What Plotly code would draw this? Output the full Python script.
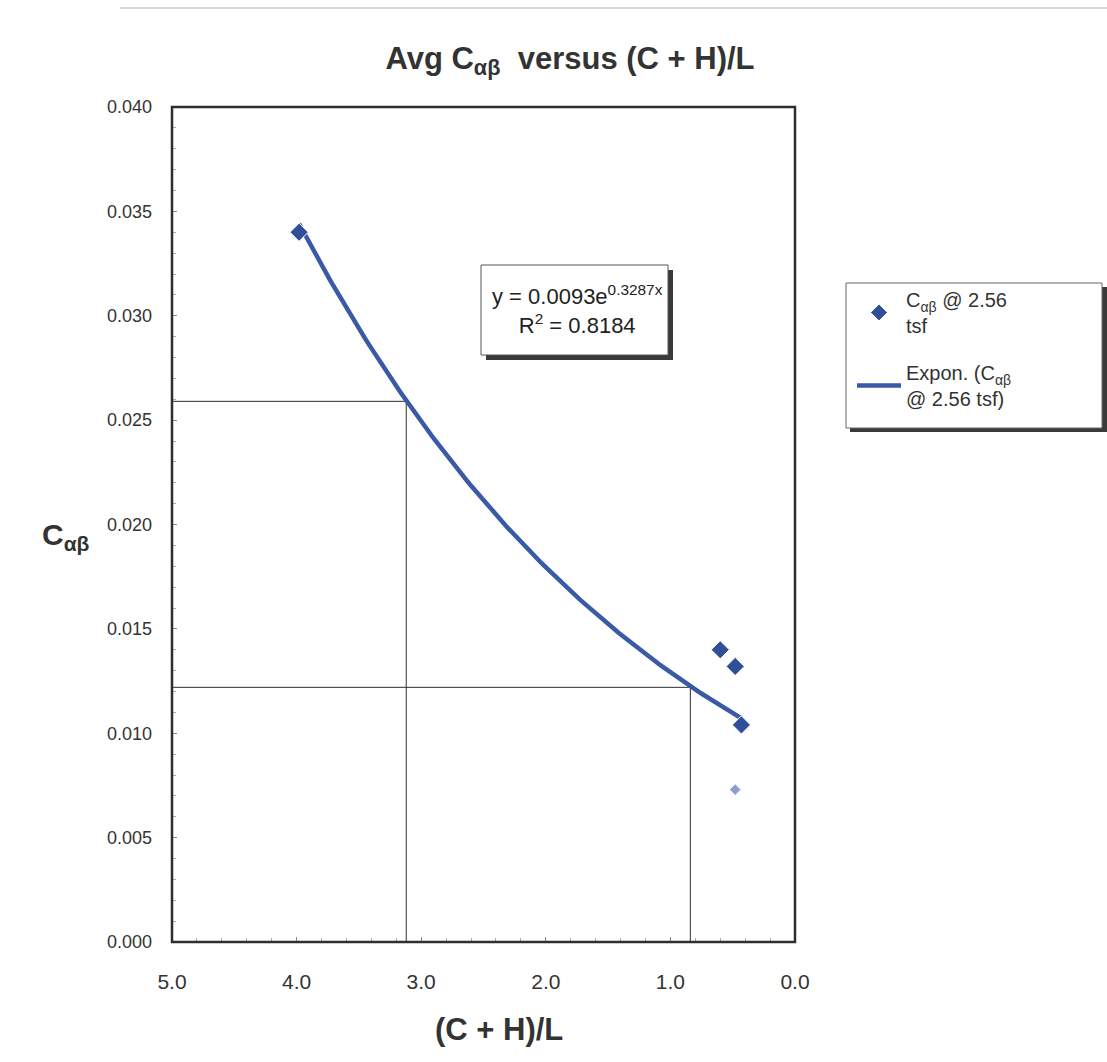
import numpy as np
import plotly.graph_objects as go

# Measured points: Avg C_ab at 2.56 tsf against (C + H)/L
ch_over_l = [3.98, 0.60, 0.48, 0.43, 0.48]
c_ab = [0.0340, 0.0140, 0.0132, 0.0104, 0.0073]

# Exponential trendline y = a * exp(b * x)
fit_a = 0.0093
fit_b = 0.3287
fit_r2 = 0.8184

# Read-off guide lines (x on the trendline, matching y)
guide_x = [3.12, 0.84]
guide_y = [0.0259, 0.0122]

x_ticks = [0.0, 1.0, 2.0, 3.0, 4.0, 5.0]
y_ticks = [0.000, 0.005, 0.010, 0.015, 0.020, 0.025, 0.030, 0.035, 0.040]

FONT = "Arial, 'Liberation Sans', sans-serif"
BLUE = "#3a5aa6"
MARK = "#2f4f98"
DARK = "#2e2e2e"

fit_x = np.linspace(max(ch_over_l), min(ch_over_l), 200)
fit_y = fit_a * np.exp(fit_b * fit_x)

fig = go.Figure()

# Guide lines drawn first so the data sit above them
for gx, gy in zip(guide_x, guide_y):
    fig.add_shape(type="line", xref="x", yref="y", x0=5.0, x1=gx, y0=gy, y1=gy,
                  line=dict(color=DARK, width=1), layer="below")
    fig.add_shape(type="line", xref="x", yref="y", x0=gx, x1=gx, y0=0.0, y1=gy,
                  line=dict(color=DARK, width=1), layer="below")

marker_colors = [MARK] * (len(c_ab) - 1) + ["#8d9fd0"]
marker_sizes = [14] * (len(c_ab) - 1) + [9]

fig.add_trace(go.Scatter(
    x=fit_x, y=fit_y, mode="lines",
    line=dict(color=BLUE, width=4.5),
    name="Expon. (C<sub>αβ</sub><br>@ 2.56 tsf)",
    legendrank=2, legendgroup="fit",
))
fig.add_trace(go.Scatter(
    x=ch_over_l, y=c_ab, mode="markers",
    marker=dict(symbol="diamond", size=marker_sizes, color=marker_colors, opacity=1),
    name="C<sub>αβ</sub> @ 2.56<br>tsf",
    legendrank=1, legendgroup="pts",
))

# Plot-area frame
fig.add_shape(type="rect", xref="paper", yref="paper", x0=0, x1=1, y0=0, y1=1,
              line=dict(color=DARK, width=2.5), layer="above")

# Equation box with drop shadow
fig.add_shape(type="rect", xref="paper", yref="paper",
              x0=(486 - 172) / 623, x1=(673 - 172) / 623,
              y0=(942 - 360) / 835, y1=(942 - 270) / 835,
              line=dict(width=0), fillcolor="#3a3a3a", layer="above")
fig.add_shape(type="rect", xref="paper", yref="paper",
              x0=(481 - 172) / 623, x1=(668 - 172) / 623,
              y0=(942 - 355) / 835, y1=(942 - 265) / 835,
              line=dict(color="#555555", width=1), fillcolor="white", layer="above")
fig.add_annotation(
    xref="paper", yref="paper", x=(577 - 172) / 623, y=(942 - 309) / 835,
    xanchor="center", yanchor="middle",
    text=f"y = {fit_a}e<sup>{fit_b}x</sup><br>R<sup>2</sup> = {fit_r2}",
    showarrow=False, align="center", font=dict(family=FONT, size=22, color="#222222"),
)

# Legend box with drop shadow
fig.add_shape(type="rect", xref="paper", yref="paper",
              x0=(850 - 172) / 623, x1=(1107 - 172) / 623,
              y0=(942 - 432) / 835, y1=(942 - 287) / 835,
              line=dict(width=0), fillcolor="#3a3a3a", layer="above")
fig.add_shape(type="rect", xref="paper", yref="paper",
              x0=(846 - 172) / 623, x1=(1102 - 172) / 623,
              y0=(942 - 428) / 835, y1=(942 - 283) / 835,
              line=dict(color="#666666", width=1), fillcolor="white", layer="above")

# Axis titles
fig.add_annotation(
    xref="paper", yref="paper", x=(499 - 172) / 623, y=(942 - 1029) / 835,
    xanchor="center", yanchor="middle",
    text="<b>(C + H)/L</b>", showarrow=False,
    font=dict(family=FONT, size=31, color="#333333"),
)
fig.add_annotation(
    xref="paper", yref="paper", x=(66 - 172) / 623, y=(942 - 536) / 835,
    xanchor="center", yanchor="middle",
    text="<b>C<sub>αβ</sub></b>", showarrow=False,
    font=dict(family=FONT, size=30, color="#333333"),
)

# Faint scan edge along the top of the sheet
fig.add_shape(type="line", xref="paper", yref="paper",
              x0=(120 - 172) / 623, x1=(1107 - 172) / 623,
              y0=(942 - 8) / 835, y1=(942 - 8) / 835,
              line=dict(color="#cccccc", width=1.5))

fig.update_layout(
    width=1107, height=1062,
    margin=dict(l=172, r=312, t=107, b=120),
    paper_bgcolor="white", plot_bgcolor="white",
    title=dict(
        text="<b>Avg C<sub>αβ</sub>  versus (C + H)/L</b>",
        x=570 / 1107, xanchor="center", y=1 - 58 / 1062, yanchor="middle",
        yref="container", xref="container",
        font=dict(family=FONT, size=31, color="#333333"),
    ),
    legend=dict(
        x=(852 - 172) / 623, y=(942 - 280) / 835, xanchor="left", yanchor="top",
        bgcolor="rgba(0,0,0,0)", borderwidth=0,
        font=dict(family=FONT, size=20, color="#333333"),
        tracegroupgap=18, itemwidth=44,
    ),
    showlegend=True,
    font=dict(family=FONT, color="#222222"),
)

fig.update_xaxes(
    range=[5.0, 0.0], tickvals=x_ticks, tickformat=".1f",
    showgrid=False, zeroline=False, showline=False,
    ticks="inside", ticklen=5, tickcolor="#888888",
    minor=dict(ticks="inside", dtick=0.2, ticklen=4, tickcolor="#aaaaaa"),
    tickfont=dict(family=FONT, size=21, color="#333333"),
    ticklabelstandoff=25,
)
fig.update_yaxes(
    range=[0.0, 0.040], tickvals=y_ticks, tickformat=".3f",
    showgrid=False, zeroline=False, showline=False,
    ticks="inside", ticklen=5, tickcolor="#888888",
    minor=dict(ticks="inside", dtick=0.001, ticklen=4, tickcolor="#aaaaaa"),
    tickfont=dict(family=FONT, size=18, color="#333333"),
    ticklabelstandoff=19,
)

fig.write_html("out.html")
